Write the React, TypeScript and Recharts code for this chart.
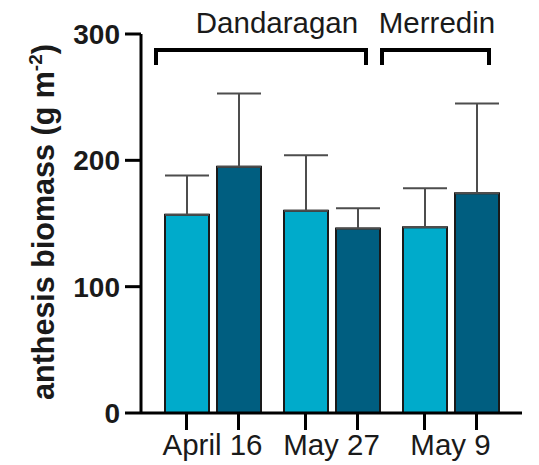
import { BarChart, Bar, XAxis, YAxis, ErrorBar } from 'recharts';

const dates = ['April 16', 'May 27', 'May 9'];
const sites = ['Dandaragan', 'Merredin'];
const light = [157, 160, 147];
const lightErr = [31, 44, 31];
const dark = [195, 146, 174];
const darkErr = [58, 16, 71];
const yTicks = [0, 100, 200, 300];

const data = dates.map((d, i) => ({
  date: d,
  light: light[i],
  lightErr: [0, lightErr[i]],
  dark: dark[i],
  darkErr: [0, darkErr[i]],
}));

const FONT = '"Liberation Sans", Arial, sans-serif';

// bracket layout for the site labels: [left, right, text centre]
const brackets = [
  { left: 156, right: 366, textX: 277 },
  { left: 382, right: 489, textX: 437 },
];

function DateTick({ x, y, payload }: any) {
  return (
    <g>
      <line x1={x - 26} x2={x - 26} y1={y} y2={y + 17} stroke="#000" strokeWidth={3} />
      <line x1={x + 26} x2={x + 26} y1={y} y2={y + 17} stroke="#000" strokeWidth={3} />
      <text x={x} y={y + 42} textAnchor="middle" fontSize={29.5} fill="#1a1a1a" fontFamily={FONT}>
        {payload.value}
      </text>
    </g>
  );
}

export default function App() {
  return (
    <div style={{ position: 'absolute', left: 0, top: 0, background: '#fff' }}>
      <BarChart
        width={539}
        height={465}
        data={data}
        margin={{ top: 34, right: 17, bottom: 0, left: 41 }}
        barSize={44}
        barGap={8}
      >
        <XAxis
          dataKey="date"
          height={52}
          padding={{ left: 12, right: 12 }}
          axisLine={{ stroke: '#000', strokeWidth: 3 }}
          tickLine={false}
          tickSize={0}
          tickMargin={0}
          tick={<DateTick />}
          interval={0}
        />
        <YAxis
          width={100}
          domain={[0, 300]}
          ticks={yTicks}
          axisLine={{ stroke: '#000', strokeWidth: 3 }}
          tickLine={{ stroke: '#000', strokeWidth: 3 }}
          tickSize={16}
          tickMargin={5}
          tick={{ fontSize: 28, fontWeight: 700, fill: '#1a1a1a', fontFamily: FONT }}
        />
        <Bar dataKey="light" fill="#00ABCB" stroke="#1a1a1a" strokeWidth={2} isAnimationActive={false}>
          <ErrorBar dataKey="lightErr" width={22} stroke="#4d4d4d" strokeWidth={2} />
        </Bar>
        <Bar dataKey="dark" fill="#005E80" stroke="#1a1a1a" strokeWidth={2} isAnimationActive={false}>
          <ErrorBar dataKey="darkErr" width={22} stroke="#4d4d4d" strokeWidth={2} />
        </Bar>
        <text
          transform="translate(54,222) rotate(-90)"
          textAnchor="middle"
          fontSize={30.5}
          fontWeight={700}
          fill="#1a1a1a"
          fontFamily={FONT}
        >
          anthesis biomass (g m<tspan dy={-12} fontSize={19}>-2</tspan>
          <tspan dy={12}>)</tspan>
        </text>
        {brackets.map((b, i) => (
          <g key={sites[i]}>
            <polyline
              points={`${b.left},65 ${b.left},50 ${b.right},50 ${b.right},65`}
              fill="none"
              stroke="#000"
              strokeWidth={4}
            />
            <text x={b.textX} y={33} textAnchor="middle" fontSize={29.5} fill="#1a1a1a" fontFamily={FONT}>
              {sites[i]}
            </text>
          </g>
        ))}
      </BarChart>
    </div>
  );
}
